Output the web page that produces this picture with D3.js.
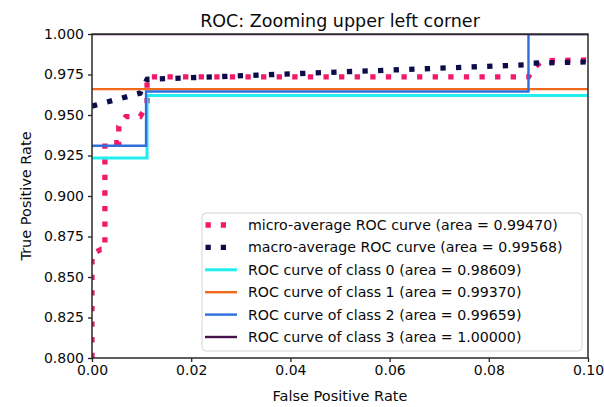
<!DOCTYPE html>
<html>
	<head>
		<title>ROC: Zooming upper left corner</title>
		<script src="https://d3js.org/d3.v7.min.js"></script>
		<style>
			body { margin: 0; background: #fff; }
			text { font-family: "DejaVu Sans", sans-serif; fill: #0a0a0a; }
		</style>
	</head>
	<body>
		<script>

			// chart values
			var xTicks = [0.00, 0.02, 0.04, 0.06, 0.08, 0.10];
			var yTicks = [0.800, 0.825, 0.850, 0.875, 0.900, 0.925, 0.950, 0.975, 1.000];

			var micro_fpr = [0, 0, 0.0018, 0.0026, 0.0026, 0.0054, 0.0054, 0.0068, 0.0097, 0.0111, 0.0111, 0.0880, 0.0889, 0.0909, 0.1];
			var micro_tpr = [0.800, 0.864, 0.867, 0.867, 0.933, 0.933, 0.943, 0.949, 0.949, 0.956, 0.9735, 0.9735, 0.9788, 0.9835, 0.984];

			var macro_fpr = [0, 0.0097, 0.0111, 0.0880, 0.0889, 0.1];
			var macro_tpr = [0.9555, 0.9635, 0.972, 0.981, 0.982, 0.9828];

			var class0_fpr = [0, 0.0111, 0.0111, 0.1];
			var class0_tpr = [0.9235, 0.9235, 0.962, 0.962];

			var class1_fpr = [0, 0.1];
			var class1_tpr = [0.966, 0.966];

			var class2_fpr = [0, 0.0109, 0.0109, 0.0880, 0.0880, 0.1];
			var class2_tpr = [0.931, 0.931, 0.9645, 0.9645, 1.0, 1.0];

			var class3_fpr = [0, 0.1];
			var class3_tpr = [1.0, 1.0];

			var labels = [
				"micro-average ROC curve (area = 0.99470)",
				"macro-average ROC curve (area = 0.99568)",
				"ROC curve of class 0 (area = 0.98609)",
				"ROC curve of class 1 (area = 0.99370)",
				"ROC curve of class 2 (area = 0.99659)",
				"ROC curve of class 3 (area = 1.00000)"
			];

			// styles
			var colors = ["#f2186a", "#0c0c4c", "#22eef2", "#f06a1c", "#2f6fdc", "#46124c"];
			var dotted = [true, true, false, false, false, false];

			var series = [
				[micro_fpr, micro_tpr],
				[macro_fpr, macro_tpr],
				[class0_fpr, class0_tpr],
				[class1_fpr, class1_tpr],
				[class2_fpr, class2_tpr],
				[class3_fpr, class3_tpr]
			];

			var width = 604;
			var height = 407;
			// plot box (window.top is read-only, so own names)
			var px0 = 92, px1 = 588, py0 = 34, py1 = 358;

			var svg = d3.select("body").append("svg")
				.attr("width", width)
				.attr("height", height);

			var x = d3.scaleLinear().domain([0, 0.1]).range([px0, px1]);
			var y = d3.scaleLinear().domain([0.8, 1.0]).range([py1, py0]);

			svg.append("clipPath").attr("id", "plot")
				.append("rect")
				.attr("x", px0).attr("y", py0)
				.attr("width", px1 - px0).attr("height", py1 - py0);

			var line = d3.line()
				.x(function (d) { return x(d[0]); })
				.y(function (d) { return y(d[1]); });

			// curves
			var g = svg.append("g").attr("clip-path", "url(#plot)");
			series.forEach(function (s, i) {
				var pts = s[0].map(function (f, k) { return [f, s[1][k]]; });
				var p = g.append("path")
					.datum(pts)
					.attr("d", line)
					.attr("fill", "none")
					.attr("stroke", colors[i]);
				if (dotted[i]) {
					p.attr("stroke-width", 5.3)
						.attr("stroke-dasharray", "5.3,10.3");
				} else {
					p.attr("stroke-width", i == 2 ? 3 : 2.4);
				}
			});

			// axes
			var xAxis = svg.append("g")
				.attr("transform", "translate(0," + py1 + ")")
				.call(d3.axisBottom(x).tickValues(xTicks).tickFormat(d3.format(".2f")).tickSize(4).tickPadding(3).tickSizeOuter(0));
			var yAxis = svg.append("g")
				.attr("transform", "translate(" + px0 + ",0)")
				.call(d3.axisLeft(y).tickValues(yTicks).tickFormat(d3.format(".3f")).tickSize(4).tickPadding(4).tickSizeOuter(0));
			[xAxis, yAxis].forEach(function (a) {
				a.select(".domain").remove();
				a.selectAll("line").attr("stroke", "#222").attr("stroke-width", 1.3);
				a.selectAll("text").style("font-size", "14px").attr("fill", "#0a0a0a");
			});

			// frame
			svg.append("rect")
				.attr("x", px0).attr("y", py0)
				.attr("width", px1 - px0).attr("height", py1 - py0)
				.attr("fill", "none")
				.attr("stroke", "#2a2a2a")
				.attr("stroke-width", 1.5);

			// legend
			var lg = svg.append("g");
			lg.append("rect")
				.attr("x", 202).attr("y", 213)
				.attr("width", 380).attr("height", 138)
				.attr("rx", 4)
				.attr("fill", "#fff").attr("fill-opacity", 0.85)
				.attr("stroke", "#d4d4d4");
			labels.forEach(function (lab, i) {
				var ry = 225 + i * 22.4;
				var h = lg.append("line")
					.attr("x1", 205).attr("x2", 237)
					.attr("y1", ry).attr("y2", ry)
					.attr("stroke", colors[i]);
				if (dotted[i]) {
					h.attr("x1", 205.5).attr("x2", 226).attr("stroke-width", 5.3).attr("stroke-dasharray", "5.3,10");
				} else {
					h.attr("stroke-width", i == 2 ? 3 : 2.4);
				}
				lg.append("text")
					.attr("x", 248).attr("y", ry)
					.attr("dy", "0.35em")
					.style("font-size", "14.2px")
					.text(lab);
			});

			// titles
			svg.append("text")
				.attr("x", (px0 + px1) / 2).attr("y", 27)
				.attr("text-anchor", "middle")
				.style("font-size", "17.5px")
				.text("ROC: Zooming upper left corner");
			svg.append("text")
				.attr("x", (px0 + px1) / 2).attr("y", 401)
				.attr("text-anchor", "middle")
				.style("font-size", "14.5px")
				.text("False Positive Rate");
			svg.append("text")
				.attr("transform", "translate(31," + ((py0 + py1) / 2) + ") rotate(-90)")
				.attr("text-anchor", "middle")
				.style("font-size", "14.5px")
				.text("True Positive Rate");

		</script>
	</body>
</html>
